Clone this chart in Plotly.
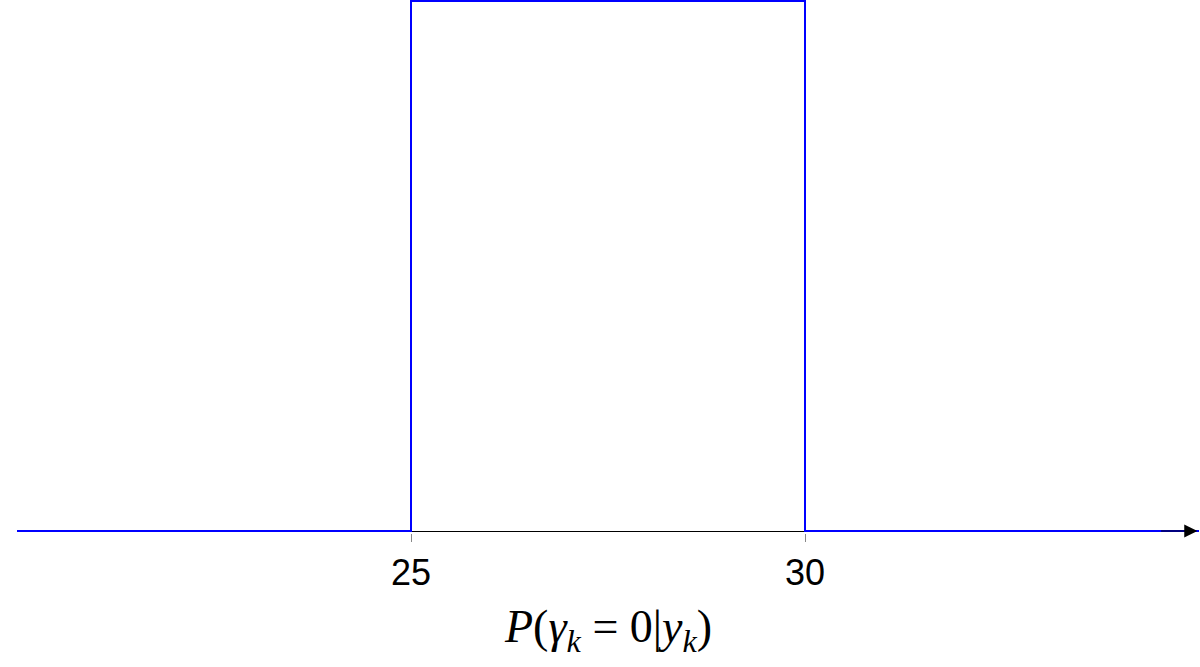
import plotly.graph_objects as go

# Data: uniform density on [25, 30]
x_vals = [20, 25, 25, 30, 30, 35]
y_vals = [0, 0, 0.2, 0.2, 0, 0]
tick_vals = [25, 30]
tick_text = ["25", "30"]

W, H = 1200, 667
t_m, b_m, l_m, r_m = 0, 134, 17, 1
plot_h = H - t_m - b_m  # 533
per_px = 0.2 / 530
y_min = 0 - 2 * per_px
y_max = 0.2 + 1 * per_px

fig = go.Figure()
fig.add_trace(go.Scatter(
    x=x_vals, y=y_vals, mode="lines",
    line=dict(color="#0000ff", width=2),
    showlegend=False, hoverinfo="skip",
))

fig.add_annotation(
    x=34.98, y=0, ax=34.5, ay=0, xref="x", yref="y", axref="x", ayref="y",
    showarrow=True, arrowhead=2, arrowsize=2.2, arrowwidth=1.2, arrowcolor="black",
    text="",
)

fig.add_annotation(
    x=0.5, y=(plot_h - 630) / plot_h, xref="paper", yref="paper",
    text="<i>P</i>(<i>γ<sub>k</sub></i> = 0|<i>y<sub>k</sub></i>)",
    showarrow=False, xanchor="center", yanchor="middle",
    font=dict(family="Liberation Serif", size=46, color="black"),
)

fig.update_layout(
    width=W, height=H,
    margin=dict(l=l_m, r=r_m, t=t_m, b=b_m, pad=0),
    paper_bgcolor="white", plot_bgcolor="white",
    xaxis=dict(
        range=[20, 35], tickvals=tick_vals, ticktext=tick_text,
        showgrid=False, zeroline=False, showline=False,
        ticks="outside", ticklen=8, tickcolor="#888888", tickwidth=1,
        tickfont=dict(family="Liberation Sans", size=36, color="black"),
        layer="below traces",
    ),
    yaxis=dict(
        range=[y_min, y_max], showgrid=False, showticklabels=False,
        zeroline=True, zerolinecolor="black", zerolinewidth=1,
        showline=False, ticks="", layer="below traces",
    ),
)

fig.write_html(
    "out.html",
    config={"displayModeBar": False},
    post_script="document.body.style.margin='0';document.body.style.overflow='hidden';",
)
